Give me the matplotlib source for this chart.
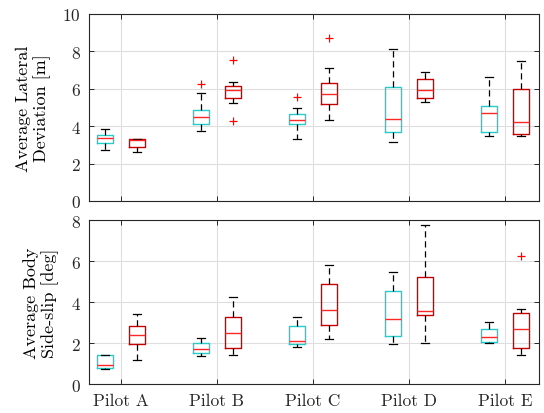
import matplotlib
matplotlib.use("Agg")
import matplotlib.pyplot as plt
import numpy as np

pilots = ["Pilot A", "Pilot B", "Pilot C", "Pilot D", "Pilot E"]

# Upper panel: Average Lateral Deviation [m]
# per pilot: (whislo, q1, med, q3, whishi, fliers)
lat_cyan = [
    (2.71, 3.08, 3.37, 3.55, 3.83, []),
    (3.74, 4.10, 4.49, 4.88, 5.79, [6.26]),
    (3.32, 4.10, 4.32, 4.67, 4.99, [5.55]),
    (3.14, 3.71, 4.39, 6.11, 8.15, []),
    (3.49, 3.71, 4.69, 5.10, 6.63, []),
]
lat_red = [
    (2.60, 2.89, 3.24, 3.30, 3.33, []),
    (5.26, 5.52, 5.95, 6.17, 6.35, [7.52, 4.28]),
    (4.33, 5.20, 5.70, 6.33, 7.13, [8.73]),
    (5.28, 5.51, 5.94, 6.54, 6.88, []),
    (3.46, 3.57, 4.24, 6.01, 7.49, []),
]
# Lower panel: Average Body Side-slip [deg]
slip_cyan = [
    (0.74, 0.76, 0.94, 1.40, 1.44, []),
    (1.38, 1.51, 1.70, 2.01, 2.26, []),
    (1.82, 1.95, 2.09, 2.81, 3.28, []),
    (1.93, 2.35, 3.18, 4.54, 5.45, []),
    (2.00, 2.04, 2.29, 2.66, 3.03, []),
]
slip_red = [
    (1.18, 1.95, 2.39, 2.82, 3.41, []),
    (1.44, 1.74, 2.47, 3.29, 4.24, []),
    (2.22, 2.86, 3.59, 4.88, 5.81, []),
    (2.01, 3.39, 3.54, 5.21, 7.77, []),
    (1.43, 1.78, 2.66, 3.47, 3.67, [6.26]),
]

plt.rcParams['font.family'] = ['cmr10', 'DejaVu Serif']
plt.rcParams['axes.formatter.use_mathtext'] = True

CYAN = (0.15, 0.8, 0.8)
DRED = (0.8, 0.0, 0.0)
MED = (1.0, 0.15, 0.15)

fig = plt.figure(figsize=(5.44, 4.14), dpi=100)
ax1 = fig.add_axes([0.1636, 0.5121, 0.827, 0.4517])
ax2 = fig.add_axes([0.1636, 0.0700, 0.827, 0.3961])

def stats(rows):
    return [dict(whislo=r[0], q1=r[1], med=r[2], q3=r[3], whishi=r[4], fliers=r[5]) for r in rows]

pos = np.arange(1, len(pilots) + 1)
off = 1 / 6
w = 1 / 6

def draw(ax, cyan_rows, red_rows):
    for rows, color, shift in [(cyan_rows, CYAN, -off), (red_rows, DRED, off)]:
        ax.bxp(stats(rows), positions=pos + shift, widths=w, capwidths=0.075,
               boxprops=dict(color=color, linewidth=1.0),
               medianprops=dict(color=MED, linewidth=1.0),
               whiskerprops=dict(color='black', linewidth=0.9, linestyle=(0, (5, 3))),
               capprops=dict(color='black', linewidth=0.9),
               flierprops=dict(marker='+', markeredgecolor='red', markersize=6, markeredgewidth=0.9,
                               linestyle='none'),
               manage_ticks=False, zorder=3)
    ax.set_xlim(2 / 3, 5 + 1 / 3 + 0.02)
    ax.set_xticks(pos)
    ax.grid(True, color=(0.87, 0.87, 0.87), linewidth=0.8, zorder=0)
    ax.set_axisbelow(True)
    ax.tick_params(direction='in', top=True, right=True, length=3.5, width=0.7,
                   colors=(0.15, 0.15, 0.15), labelsize=12.5, pad=6)
    for s in ax.spines.values():
        s.set_color((0.15, 0.15, 0.15))
        s.set_linewidth(0.8)

draw(ax1, lat_cyan, lat_red)
draw(ax2, slip_cyan, slip_red)

ax1.set_ylim(0, 10)
ax1.set_yticks([0, 2, 4, 6, 8, 10])
ax1.set_xticklabels([])
ax2.set_ylim(0, 8)
ax2.set_yticks([0, 2, 4, 6, 8])
ax2.set_xticklabels(pilots)

ax1.set_ylabel("Average Lateral\nDeviation [m]", fontsize=13, labelpad=8)
ax2.set_ylabel("Average Body\nSide-slip [deg]", fontsize=13, labelpad=8)

fig.savefig("out.png", dpi=100)
